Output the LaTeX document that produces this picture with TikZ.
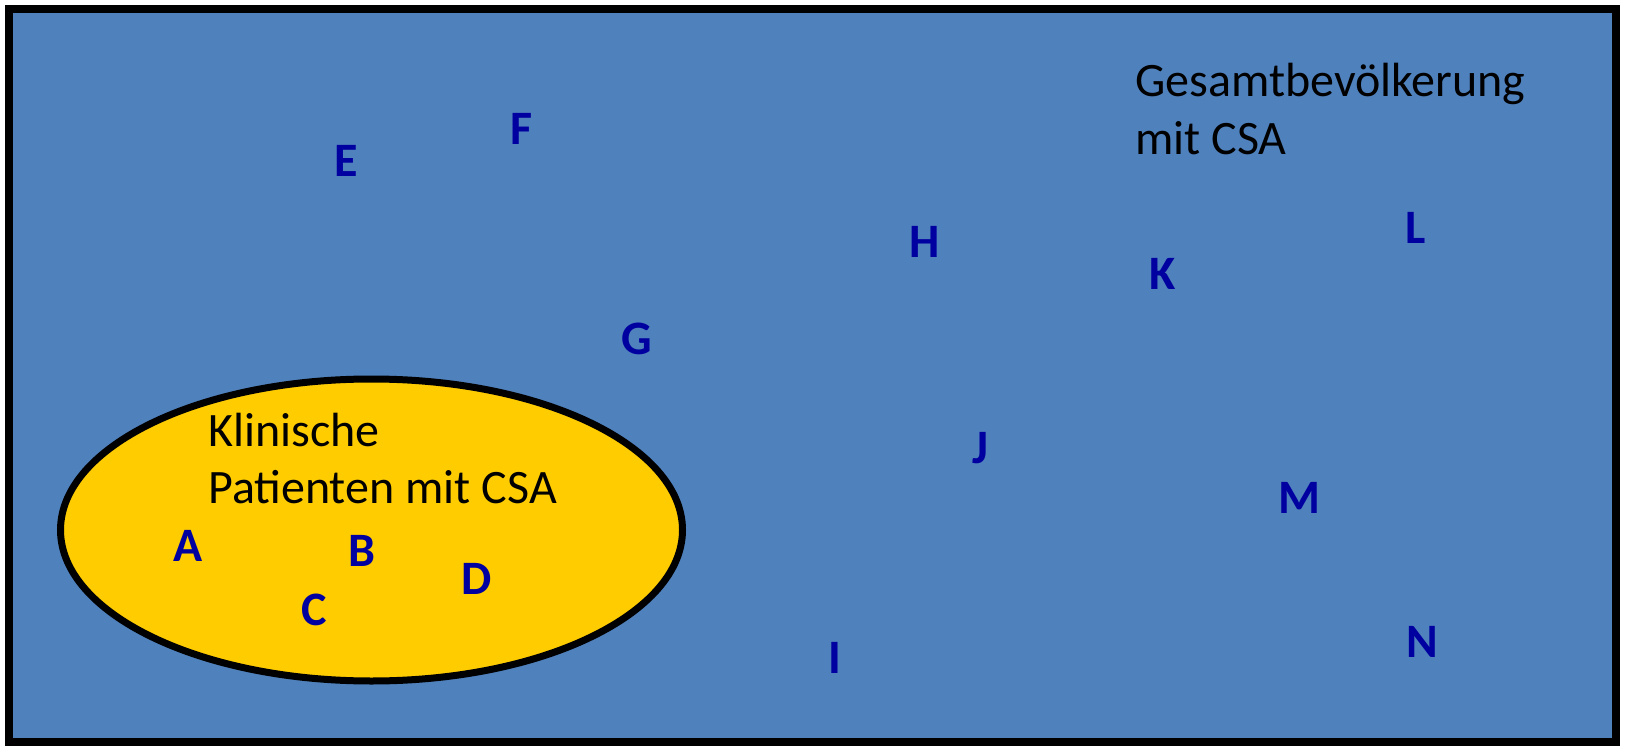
\documentclass[tikz,border=0pt]{standalone}
\usepackage{fontspec}
\setmainfont{Carlito}
\definecolor{popblue}{RGB}{79,129,189}
\definecolor{clinyellow}{RGB}{255,204,0}
\definecolor{letterblue}{RGB}{0,0,160}
\begin{document}
\begin{tikzpicture}[x=1pt,y=-1pt,
  lbl/.style={inner sep=0pt,anchor=base west,font=\fontsize{48}{58}\selectfont,text=black},
  pt/.style={inner sep=0pt,anchor=base,font=\fontsize{48}{58}\selectfont\bfseries,text=letterblue}]
\useasboundingbox (0,0) rectangle (1633,746);
\draw[line width=8pt,fill=popblue] (8.5,9.5) rectangle (1616,742);
\draw[line width=7pt,fill=clinyellow] (371.5,530) ellipse [x radius=311,y radius=151];
\node[lbl] (g1) at (1135,97) {Gesamtbevölkerung};
\node[lbl] (g2) at (1135,155) {mit CSA};
\node[lbl] (k1) at (208,446) {Klinische};
\node[lbl] (k2) at (208,503) {Patienten mit CSA};
\node[pt] (A) at (188.5,561.5) {A};
\node[pt] (B) at (362,566.5) {B};
\node[pt] (C) at (314.5,625.5) {C};
\node[pt] (D) at (477,594.5) {D};
\node[pt] (E) at (346.5,177) {E};
\node[pt] (F) at (522,145) {F};
\node[pt] (G) at (637,354) {G};
\node[pt] (H) at (925,258) {H};
\node[pt] (I) at (835,673.5) {I};
\node[pt] (J) at (980,463) {J};
\node[pt] (K) at (1163,289.5) {K};
\node[pt] (L) at (1416,243.5) {L};
\node[pt] (M) at (1299.5,513.5) {M};
\node[pt] (N) at (1422,657) {N};
\end{tikzpicture}
\end{document}
